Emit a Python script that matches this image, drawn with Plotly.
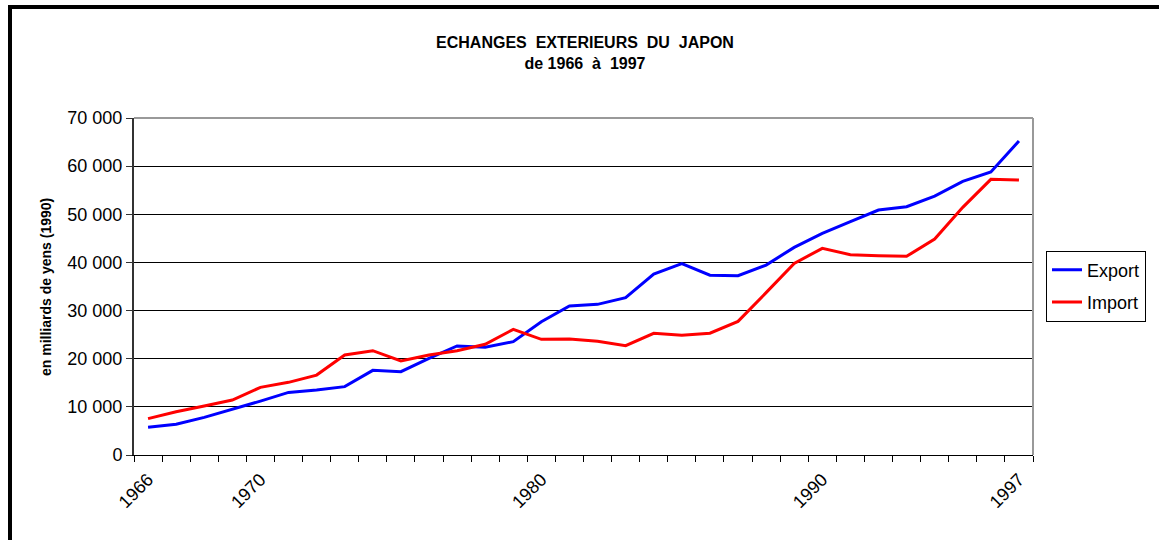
import plotly.graph_objects as go

years = list(range(1966, 1998))
export_vals = [5750, 6370, 7820, 9490, 11200, 13000, 13500, 14200, 17580, 17300,
               20080, 22640, 22400, 23540, 27690, 30950, 31290, 32680, 37590, 39740,
               37350, 37250, 39460, 43130, 46040, 48460, 50890, 51580, 53790, 56840,
               58780, 65220]
import_vals = [7550, 9000, 10180, 11420, 14050, 15090, 16600, 20770, 21670, 19520,
               20770, 21670, 22990, 26100, 24020, 24090, 23610, 22710, 25270, 24850,
               25300, 27760, 33720, 39810, 42920, 41610, 41400, 41260, 44860, 51440,
               57260, 57120]
x_tick_vals = [1966, 1970, 1980, 1990, 1997]
x_tick_text = ["1966", "1970", "1980", "1990", "1997"]
y_tick_vals = [0, 10000, 20000, 30000, 40000, 50000, 60000, 70000]
y_tick_text = ["0", "10 000", "20 000", "30 000", "40 000", "50 000", "60 000", "70 000"]

FONT = "Liberation Sans, Arial, sans-serif"

fig = go.Figure()
fig.add_trace(go.Scatter(x=years, y=export_vals, mode="lines", name="Export",
                         line=dict(color="#0000FF", width=3), legendgroup="a"))
fig.add_trace(go.Scatter(x=years, y=import_vals, mode="lines", name="Import",
                         line=dict(color="#FF0000", width=3), legendgroup="b"))

fig.update_layout(
    width=1159, height=540,
    margin=dict(l=134, r=126, t=118, b=85),
    paper_bgcolor="white", plot_bgcolor="white",
    font=dict(family=FONT, color="black", size=18),
    title=dict(text="ECHANGES\u00a0\u00a0EXTERIEURS\u00a0\u00a0DU\u00a0\u00a0JAPON<br>de 1966\u00a0\u00a0à\u00a0\u00a01997",
               x=585 / 1159, xanchor="center", y=1 - 48 / 540, yanchor="top",
               font=dict(family=FONT, size=16, color="black", weight="bold")),
    showlegend=True,
    legend=dict(x=(1046 - 134) / 899, xanchor="left", y=(455 - 286) / 337, yanchor="middle",
                bordercolor="black", borderwidth=1, bgcolor="white",
                font=dict(family=FONT, size=18), tracegroupgap=6, traceorder="grouped"),
    xaxis=dict(range=[1965.5, 1997.5], tickmode="array", tickvals=x_tick_vals, ticktext=x_tick_text,
               tickangle=-45, ticks="", showgrid=False, zeroline=False,
               showline=True, linecolor="black", linewidth=1, ticklabelstandoff=6,
               tickfont=dict(family=FONT, size=18),
               minor=dict(ticks="outside", tick0=1965.5, dtick=1, ticklen=6,
                          tickcolor="black", tickwidth=1, showgrid=False)),
    yaxis=dict(range=[0, 70000], tickmode="array", tickvals=y_tick_vals, ticktext=y_tick_text,
               ticks="outside", ticklen=6, tickcolor="#333", showgrid=True, gridcolor="black",
               gridwidth=1, zeroline=False, showline=True, linecolor="#333", linewidth=2,
               tickfont=dict(family=FONT, size=18)),
    shapes=[
        dict(type="line", xref="paper", yref="paper", x0=0, x1=1, y0=1, y1=1,
             line=dict(color="#999999", width=2), layer="above"),
        dict(type="line", xref="paper", yref="paper", x0=1, x1=1, y0=0, y1=1,
             line=dict(color="#999999", width=2), layer="above"),
        dict(type="rect", xref="paper", yref="paper", x0=(10 - 134) / 899, x1=2.0,
             y0=-1.0, y1=(455 - 7) / 337, line=dict(color="black", width=4), layer="above"),
    ],
    annotations=[
        dict(text="en milliards de yens (1990)", xref="paper", yref="paper",
             x=(46 - 134) / 899, y=(455 - 287) / 337, textangle=-90, showarrow=False,
             xanchor="center", yanchor="middle",
             font=dict(family=FONT, size=14, color="black", weight="bold")),
    ],
)

fig.write_html("out.html", config={"displayModeBar": False},
               post_script="document.body.style.margin='0px';")
